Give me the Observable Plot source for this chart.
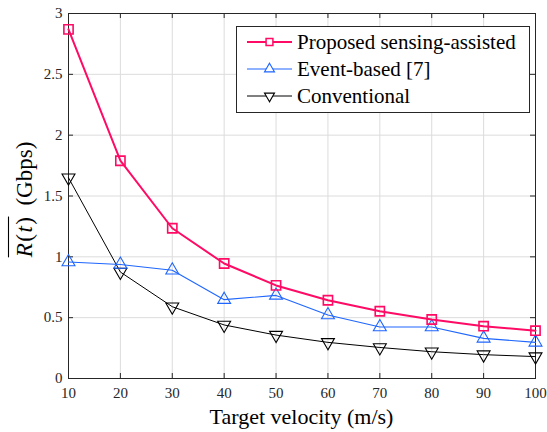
<!DOCTYPE html>
<html><head><meta charset="utf-8">
<script src="https://cdn.jsdelivr.net/npm/d3@7"></script>
<script src="https://cdn.jsdelivr.net/npm/@observablehq/plot@0.6"></script>
<style>body{margin:0;background:#fff}</style>
</head><body><div id="chart"></div>
<script>
const velocity = [10, 20, 30, 40, 50, 60, 70, 80, 90, 100];
const proposed = [2.87, 1.79, 1.235, 0.945, 0.765, 0.643, 0.553, 0.485, 0.43, 0.393];
const eventBased = [0.958, 0.937, 0.89, 0.648, 0.683, 0.522, 0.423, 0.423, 0.33, 0.297];
const conventional = [1.65, 0.875, 0.59, 0.44, 0.357, 0.297, 0.255, 0.22, 0.196, 0.18];
const xTicks = [10, 20, 30, 40, 50, 60, 70, 80, 90, 100];
const yTicks = [0, 0.5, 1, 1.5, 2, 2.5, 3];
const seriesNames = ["Proposed sensing-assisted", "Event-based [7]", "Conventional"];
const xLabel = "Target velocity (m/s)";
const yUnit = "(Gbps)";

const W = 547, H = 432;
const mL = 68, mR = 12, mT = 13, mB = 54;
const innerW = W - mL - mR, innerH = H - mT - mB;
const colors = ["#ff0a64", "#1f66ff", "#000000"];
const font = "Liberation Serif";

const rows = s => velocity.map((v, i) => ({x: v, y: s[i]}));
const P = rows(proposed), E = rows(eventBased), C = rows(conventional);

const chart = Plot.plot({
  width: W, height: H,
  marginLeft: mL, marginRight: mR, marginTop: mT, marginBottom: mB,
  style: {fontFamily: font, fontSize: "15px", background: "#fff"},
  x: {domain: [10, 100]},
  y: {domain: [0, 3]},
  marks: [
    Plot.gridX(xTicks, {stroke: "#dcdcdc", strokeOpacity: 1}),
    Plot.gridY(yTicks, {stroke: "#dcdcdc", strokeOpacity: 1}),
    Plot.tickX(xTicks, {x: d => d, insetTop: innerH - 5, stroke: "#262626"}),
    Plot.tickX(xTicks, {x: d => d, insetBottom: innerH - 5, stroke: "#262626"}),
    Plot.tickY(yTicks, {y: d => d, insetRight: innerW - 5, stroke: "#262626"}),
    Plot.tickY(yTicks, {y: d => d, insetLeft: innerW - 5, stroke: "#262626"}),
    Plot.frame({stroke: "#262626", strokeWidth: 1}),
    Plot.axisX(xTicks, {tickSize: 0, tickPadding: 9, label: null, fill: "#262626", fontFamily: font, fontSize: 15, tickFormat: d => String(d)}),
    Plot.axisY(yTicks, {tickSize: 0, tickPadding: 6, label: null, fill: "#262626", fontFamily: font, fontSize: 15, tickFormat: d => String(d)}),
    Plot.line(C, {x: "x", y: "y", stroke: colors[2], strokeWidth: 1}),
    Plot.dot(C, {x: "x", y: "y", symbol: "triangle", rotate: 180, r: 4.8, stroke: colors[2], strokeWidth: 1.1, fill: "none"}),
    Plot.line(E, {x: "x", y: "y", stroke: colors[1], strokeWidth: 1.1}),
    Plot.dot(E, {x: "x", y: "y", symbol: "triangle", r: 4.8, stroke: colors[1], strokeWidth: 1.1, fill: "none"}),
    Plot.line(P, {x: "x", y: "y", stroke: colors[0], strokeWidth: 2}),
    Plot.dot(P, {x: "x", y: "y", symbol: "square", r: 5.2, stroke: colors[0], strokeWidth: 1.6, fill: "none"})
  ]
});
document.getElementById("chart").appendChild(chart);

const svg = d3.select(chart);
// x label
svg.append("text")
  .attr("x", mL + innerW / 2).attr("y", H - 8)
  .attr("text-anchor", "middle")
  .attr("font-family", font).attr("font-size", 22).attr("fill", "#000")
  .text(xLabel);

// y label: overline(R(t)) (Gbps), rotated
const yg = svg.append("g").attr("transform", `translate(32,${mT + innerH / 2 + 4}) rotate(-90)`)
  .attr("font-family", font).attr("font-size", 23).attr("fill", "#000");
const t1 = yg.append("text").attr("text-anchor", "start").attr("letter-spacing", 1.5);
t1.append("tspan").attr("font-style", "italic").text("R");
t1.append("tspan").text("(");
t1.append("tspan").attr("font-style", "italic").text("t");
t1.append("tspan").text(")");
const t2 = yg.append("text").attr("text-anchor", "start").text(yUnit);
const w1 = t1.node().getComputedTextLength();
const w2 = t2.node().getComputedTextLength();
const gap = 10;
const x0 = -(w1 + gap + w2) / 2;
t1.attr("x", x0);
t2.attr("x", x0 + w1 + gap);
yg.append("line").attr("x1", x0).attr("x2", x0 + w1 - 1).attr("y1", -23.5).attr("y2", -23.5)
  .attr("stroke", "#000").attr("stroke-width", 1.1);

// legend
const lg = svg.append("g");
lg.append("rect").attr("x", 236.5).attr("y", 26.5).attr("width", 293).attr("height", 86)
  .attr("fill", "#fff").attr("stroke", "#262626").attr("stroke-width", 1);
const syms = [d3.symbolSquare, d3.symbolTriangle, d3.symbolTriangle];
const sizes = [Math.PI * 5.2 * 5.2 * 0.55, Math.PI * 4.8 * 4.8 * 0.6, Math.PI * 4.8 * 4.8 * 0.6];
const widths = [2, 1.1, 1];
seriesNames.forEach((name, i) => {
  const cy = 42 + i * 27;
  lg.append("line").attr("x1", 247).attr("x2", 292).attr("y1", cy).attr("y2", cy)
    .attr("stroke", colors[i]).attr("stroke-width", widths[i]);
  lg.append("path").attr("d", d3.symbol(syms[i], sizes[i])())
    .attr("transform", `translate(269.5,${cy})${i === 2 ? " rotate(180)" : ""}`)
    .attr("fill", "#fff").attr("stroke", colors[i]).attr("stroke-width", i === 0 ? 1.5 : 1.1);
  lg.append("text").attr("x", 297).attr("y", cy).attr("dy", "0.35em")
    .attr("text-anchor", "start")
    .attr("font-family", font).attr("font-size", 21).attr("fill", "#000").text(name);
});
</script></body></html>
